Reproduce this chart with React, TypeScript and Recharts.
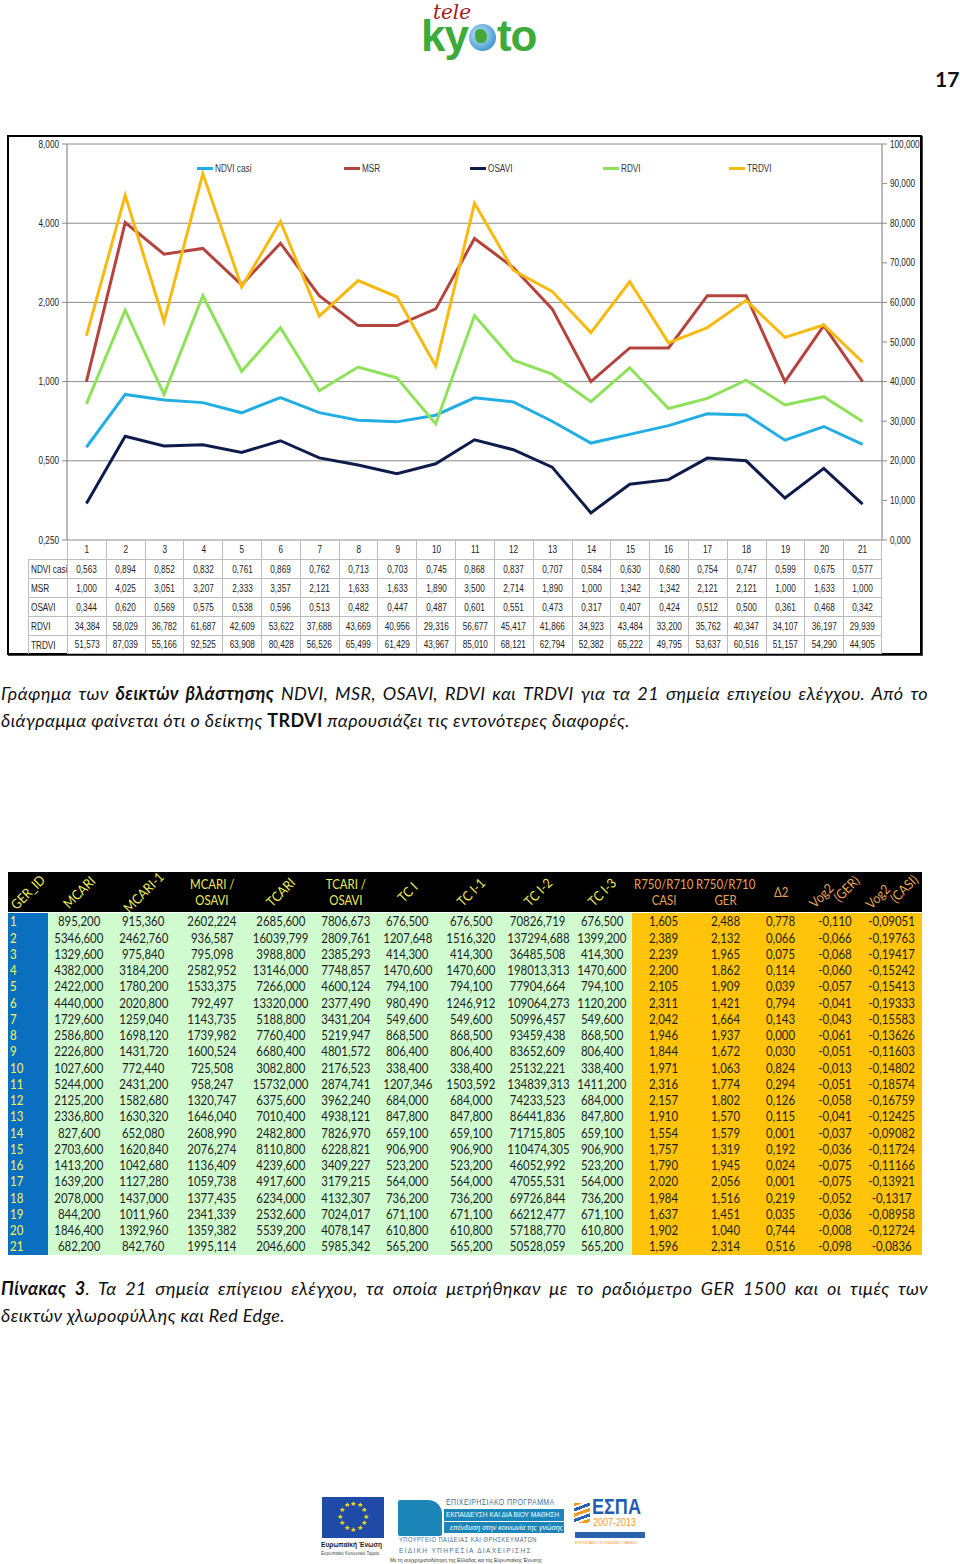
import React from 'react';
import { LineChart, Line, XAxis, YAxis, CartesianGrid, Legend } from 'recharts';

// ---------- Chart data ----------
const categories = [1, 2, 3, 4, 5, 6, 7, 8, 9, 10, 11, 12, 13, 14, 15, 16, 17, 18, 19, 20, 21];
const ndviCasi = [0.563, 0.894, 0.852, 0.832, 0.761, 0.869, 0.762, 0.713, 0.703, 0.745, 0.868, 0.837, 0.707, 0.584, 0.630, 0.680, 0.754, 0.747, 0.599, 0.675, 0.577];
const msr = [1.000, 4.025, 3.051, 3.207, 2.333, 3.357, 2.121, 1.633, 1.633, 1.890, 3.500, 2.714, 1.890, 1.000, 1.342, 1.342, 2.121, 2.121, 1.000, 1.633, 1.000];
const osavi = [0.344, 0.620, 0.569, 0.575, 0.538, 0.596, 0.513, 0.482, 0.447, 0.487, 0.601, 0.551, 0.473, 0.317, 0.407, 0.424, 0.512, 0.500, 0.361, 0.468, 0.342];
const rdvi = [34.384, 58.029, 36.782, 61.687, 42.609, 53.622, 37.688, 43.669, 40.956, 29.316, 56.677, 45.417, 41.866, 34.923, 43.484, 33.200, 35.762, 40.347, 34.107, 36.197, 29.939];
const trdvi = [51.573, 87.039, 55.166, 92.525, 63.908, 80.428, 56.526, 65.499, 61.429, 43.967, 85.010, 68.121, 62.794, 52.382, 65.222, 49.795, 53.637, 60.516, 51.157, 54.290, 44.905];

const leftTicks = [0.25, 0.5, 1, 2, 4, 8];
const rightTicks = [0, 10, 20, 30, 40, 50, 60, 70, 80, 90, 100];
const gridTicks = Array.from({ length: 43 }, (_, i) => 0.5 + i * 0.5);

// ---------- Table 3 data ----------
const mcari = [895.2, 5346.6, 1329.6, 4382.0, 2422.0, 4440.0, 1729.6, 2586.8, 2226.8, 1027.6, 5244.0, 2125.2, 2336.8, 827.6, 2703.6, 1413.2, 1639.2, 2078.0, 844.2, 1846.4, 682.2];
const mcari1 = [915.36, 2462.76, 975.84, 3184.2, 1780.2, 2020.8, 1259.04, 1698.12, 1431.72, 772.44, 2431.2, 1582.68, 1630.32, 652.08, 1620.84, 1042.68, 1127.28, 1437.0, 1011.96, 1392.96, 842.76];
const mcariOsavi = [2602.224, 936.587, 795.098, 2582.952, 1533.375, 792.497, 1143.735, 1739.982, 1600.524, 725.508, 958.247, 1320.747, 1646.040, 2608.990, 2076.274, 1136.409, 1059.738, 1377.435, 2341.339, 1359.382, 1995.114];
const tcari = [2685.6, 16039.799, 3988.8, 13146.0, 7266.0, 13320.0, 5188.8, 7760.4, 6680.4, 3082.8, 15732.0, 6375.6, 7010.4, 2482.8, 8110.8, 4239.6, 4917.6, 6234.0, 2532.6, 5539.2, 2046.6];
const tcariOsavi = [7806.673, 2809.761, 2385.293, 7748.857, 4600.124, 2377.490, 3431.204, 5219.947, 4801.572, 2176.523, 2874.741, 3962.240, 4938.121, 7826.970, 6228.821, 3409.227, 3179.215, 4132.307, 7024.017, 4078.147, 5985.342];
const tcI = [676.5, 1207.648, 414.3, 1470.6, 794.1, 980.49, 549.6, 868.5, 806.4, 338.4, 1207.346, 684.0, 847.8, 659.1, 906.9, 523.2, 564.0, 736.2, 671.1, 610.8, 565.2];
const tcI1 = [676.5, 1516.32, 414.3, 1470.6, 794.1, 1246.912, 549.6, 868.5, 806.4, 338.4, 1503.592, 684.0, 847.8, 659.1, 906.9, 523.2, 564.0, 736.2, 671.1, 610.8, 565.2];
const tcI2 = [70826.719, 137294.688, 36485.508, 198013.313, 77904.664, 109064.273, 50996.457, 93459.438, 83652.609, 25132.221, 134839.313, 74233.523, 86441.836, 71715.805, 110474.305, 46052.992, 47055.531, 69726.844, 66212.477, 57188.770, 50528.059];
const tcI3 = [676.5, 1399.2, 414.3, 1470.6, 794.1, 1120.2, 549.6, 868.5, 806.4, 338.4, 1411.2, 684.0, 847.8, 659.1, 906.9, 523.2, 564.0, 736.2, 671.1, 610.8, 565.2];
const r750Casi = [1.605, 2.389, 2.239, 2.200, 2.105, 2.311, 2.042, 1.946, 1.844, 1.971, 2.316, 2.157, 1.910, 1.554, 1.757, 1.790, 2.020, 1.984, 1.637, 1.902, 1.596];
const r750Ger = [2.488, 2.132, 1.965, 1.862, 1.909, 1.421, 1.664, 1.937, 1.672, 1.063, 1.774, 1.802, 1.570, 1.579, 1.319, 1.945, 2.056, 1.516, 1.451, 1.040, 2.314];
const delta2 = [0.778, 0.066, 0.075, 0.114, 0.039, 0.794, 0.143, 0.000, 0.030, 0.824, 0.294, 0.126, 0.115, 0.001, 0.192, 0.024, 0.001, 0.219, 0.035, 0.744, 0.516];
const vog2Ger = [-0.110, -0.066, -0.068, -0.060, -0.057, -0.041, -0.043, -0.061, -0.051, -0.013, -0.051, -0.058, -0.041, -0.037, -0.036, -0.075, -0.075, -0.052, -0.036, -0.008, -0.098];
const vog2Casi = [-0.09051, -0.19763, -0.19417, -0.15242, -0.15413, -0.19333, -0.15583, -0.13626, -0.11603, -0.14802, -0.18574, -0.16759, -0.12425, -0.09082, -0.11724, -0.11166, -0.13921, -0.1317, -0.08958, -0.12724, -0.0836];

const chartData = categories.map((c, i) => ({
  x: c,
  ndvi: ndviCasi[i],
  msr: msr[i],
  osavi: osavi[i],
  rdvi: rdvi[i],
  trdvi: trdvi[i],
}));

const ARIAL = '"Liberation Sans", Arial, sans-serif';
const BODY = 'Lato, "Open Sans", "Noto Sans", sans-serif';
const NARROW_SCALE = 0.82;

const fmt3 = (v: number) => v.toFixed(3).replace('.', ',');
const fmtRaw = (v: number) => String(v).replace('.', ',');

const COLORS = {
  ndvi: '#23AEE3',
  msr: '#B5443E',
  osavi: '#0E1C4C',
  rdvi: '#8EE25A',
  trdvi: '#F7BA12',
};

const seriesRows = [
  { name: 'NDVI casi', values: ndviCasi },
  { name: 'MSR', values: msr },
  { name: 'OSAVI', values: osavi },
  { name: 'RDVI', values: rdvi },
  { name: 'TRDVI', values: trdvi },
];
const seriesOrder = seriesRows.map((r) => r.name);

const Cond = ({ children, s = NARROW_SCALE, origin = 'center' }: { children: React.ReactNode; s?: number; origin?: string }) => (
  <span style={{ display: 'inline-block', transform: `scaleX(${s})`, transformOrigin: origin, whiteSpace: 'nowrap' }}>{children}</span>
);

const CondTick = (props: any) => {
  const { x, y, payload, textAnchor } = props;
  return (
    <g transform={`translate(${x},${y})`}>
      <text x={0} y={0} dy="0.355em" textAnchor={textAnchor} transform={`scale(${NARROW_SCALE},1)`} fontSize={10} fill="#222" fontFamily={ARIAL}>
        {fmt3(payload.value)}
      </text>
    </g>
  );
};

const renderLegend = (props: any) => {
  const items = [...(props.payload || [])].sort((a: any, b: any) => seriesOrder.indexOf(a.value) - seriesOrder.indexOf(b.value));
  return (
    <div style={{ display: 'flex', alignItems: 'center', gap: 85, fontFamily: ARIAL, fontSize: 10, color: '#333' }}>
      {items.map((p: any) => (
        <div key={p.value} style={{ display: 'flex', alignItems: 'center', whiteSpace: 'nowrap' }}>
          <span style={{ display: 'inline-block', width: 16, height: 3, background: p.color, marginRight: 2 }} />
          <Cond origin="left">{p.value}</Cond>
        </div>
      ))}
    </div>
  );
};

const PLOT_L = 67;
const PLOT_R = 882;
const BAND = (PLOT_R - PLOT_L) / 21;

function ChartTable() {
  const cellBorder = '1px solid #bdbdbd';
  const rowH = 19;
  const base: React.CSSProperties = { position: 'absolute', height: rowH, boxSizing: 'border-box', display: 'flex', alignItems: 'center', fontSize: 10, fontFamily: ARIAL, color: '#222', whiteSpace: 'nowrap' };
  const cells: React.ReactNode[] = [];
  categories.forEach((c, i) => {
    cells.push(
      <div key={'h' + i} style={{ ...base, left: PLOT_L + i * BAND, top: 540, width: BAND, borderLeft: cellBorder, borderRight: i === 20 ? cellBorder : undefined, justifyContent: 'center' }}>
        <Cond>{c}</Cond>
      </div>
    );
  });
  seriesRows.forEach((r, ri) => {
    const top = 540 + rowH * (ri + 1);
    cells.push(
      <div key={'l' + ri} style={{ ...base, left: 28, top, width: PLOT_L - 28, borderLeft: cellBorder, borderTop: cellBorder, paddingLeft: 2 }}>
        <Cond origin="left">{r.name}</Cond>
      </div>
    );
    r.values.forEach((v, i) => {
      cells.push(
        <div key={'c' + ri + '_' + i} style={{ ...base, left: PLOT_L + i * BAND, top, width: BAND, borderLeft: cellBorder, borderTop: cellBorder, borderRight: i === 20 ? cellBorder : undefined, borderBottom: ri === 4 ? cellBorder : undefined, justifyContent: 'center' }}>
          <Cond>{fmt3(v)}</Cond>
        </div>
      );
    });
  });
  return <>{cells}</>;
}

const t3Columns = [
  { head: ['GER_ID'], rot: true, w: 40 },
  { head: ['MCARI'], rot: true, w: 62, data: mcari, f: fmt3 },
  { head: ['MCARI-1'], rot: true, w: 67, data: mcari1, f: fmt3 },
  { head: ['MCARI /', 'OSAVI'], rot: false, w: 70, data: mcariOsavi, f: fmt3 },
  { head: ['TCARI'], rot: true, w: 68, data: tcari, f: fmt3 },
  { head: ['TCARI /', 'OSAVI'], rot: false, w: 62, data: tcariOsavi, f: fmt3 },
  { head: ['TC I'], rot: true, w: 61, data: tcI, f: fmt3 },
  { head: ['TC I-1'], rot: true, w: 66, data: tcI1, f: fmt3 },
  { head: ['TC I-2'], rot: true, w: 68, data: tcI2, f: fmt3 },
  { head: ['TC I-3'], rot: true, w: 60, data: tcI3, f: fmt3 },
  { head: ['R750/R710', 'CASI'], rot: false, w: 64, data: r750Casi, f: fmt3 },
  { head: ['R750/R710', 'GER'], rot: false, w: 59, data: r750Ger, f: fmt3 },
  { head: ['Δ2'], rot: false, w: 52, data: delta2, f: fmt3 },
  { head: ['Vog2', '(GER)'], rot: true, w: 55, data: vog2Ger, f: fmt3 },
  { head: ['Vog2', '(CASI)'], rot: true, w: 60, data: vog2Casi, f: fmtRaw },
];

function Table3() {
  const left0 = 8;
  const headTop = 872;
  const headH = 40;
  const rowH = 16.25;
  const els: React.ReactNode[] = [];
  const totalW = t3Columns.reduce((s, c) => s + c.w, 0);
  const T_SCALE = 0.88;
  els.push(<div key="hb" style={{ position: 'absolute', left: left0, top: headTop, width: totalW, height: headH, background: '#000' }} />);
  let x = left0;
  t3Columns.forEach((col, ci) => {
    const gold = ci >= 10;
    const headColor = gold ? '#E7A25A' : '#EDED5C';
    const cx = x;
    if (col.rot) {
      els.push(
        <div key={'h' + ci} style={{ position: 'absolute', left: cx, top: headTop, width: col.w, height: headH, display: 'flex', alignItems: 'center', justifyContent: 'center' }}>
          <div style={{ transform: `rotate(-45deg) scaleX(0.9)`, color: headColor, fontFamily: BODY, fontSize: 13.5, lineHeight: '13px', whiteSpace: 'nowrap', textAlign: 'left' }}>
            {col.head.map((h, hi) => (
              <div key={hi} style={{ paddingLeft: hi * 24 }}>{h}</div>
            ))}
          </div>
        </div>
      );
    } else {
      els.push(
        <div key={'h' + ci} style={{ position: 'absolute', left: cx, top: headTop, width: col.w, height: headH, display: 'flex', flexDirection: 'column', alignItems: 'center', justifyContent: 'center', color: headColor, fontFamily: BODY, fontSize: 13, lineHeight: '16px', whiteSpace: 'nowrap' }}>
          {col.head.map((h, hi) => (
            <div key={hi}><Cond s={T_SCALE}>{h}</Cond></div>
          ))}
        </div>
      );
    }
    for (let r = 0; r < 21; r++) {
      const top = headTop + headH + 1 + r * rowH;
      const bg = ci === 0 ? '#0B6FBF' : gold ? '#FFC40A' : '#CFFBCF';
      const content = ci === 0 ? String(categories[r]) : col.f!(col.data![r]);
      els.push(
        <div key={'c' + ci + '_' + r} style={{ position: 'absolute', left: cx, top, width: col.w, height: rowH + 0.5, background: bg, display: 'flex', alignItems: 'center', justifyContent: ci === 0 ? 'flex-start' : 'center', paddingLeft: ci === 0 ? 2 : 0, boxSizing: 'border-box', color: ci === 0 ? '#F4F85A' : '#1d1d1d', fontFamily: BODY, fontSize: 13, whiteSpace: 'nowrap' }}>
          <Cond s={T_SCALE} origin={ci === 0 ? 'left' : 'center'}>{content}</Cond>
        </div>
      );
    }
    x += col.w;
  });
  return <>{els}</>;
}

function EUFlag() {
  const stars = Array.from({ length: 12 }, (_, i) => i);
  return (
    <div style={{ position: 'absolute', left: 322, top: 1497, width: 62, height: 41, background: '#1F4AA8' }}>
      {stars.map((i) => {
        const a = (i / 12) * Math.PI * 2;
        return (
          <span key={i} style={{ position: 'absolute', left: 31 + Math.cos(a) * 13 - 3, top: 20.5 + Math.sin(a) * 13 - 5, fontSize: 7, color: '#FFE200', lineHeight: '8px' }}>★</span>
        );
      })}
    </div>
  );
}

const captionStyle: React.CSSProperties = { position: 'absolute', left: 1, fontFamily: BODY, fontStyle: 'italic', fontSize: 18, letterSpacing: 0.4, lineHeight: '27px', color: '#111', whiteSpace: 'nowrap' };

export default function App() {
  return (
    <div style={{ position: 'absolute', left: 0, top: 0, width: 960, height: 1564, background: '#fff', overflow: 'hidden' }}>
      {/* Logo */}
      <div style={{ position: 'absolute', left: 433, top: 6, fontFamily: '"DejaVu Serif", "Liberation Serif", serif', fontStyle: 'italic', color: '#A8161E', fontSize: 20, lineHeight: '12px' }}>tele</div>
      <div style={{ position: 'absolute', left: 421, top: 22, fontFamily: ARIAL, fontWeight: 700, fontSize: 44, lineHeight: '28px', color: '#3DAA3A', letterSpacing: -1, display: 'flex', alignItems: 'flex-end' }}>
        <span>ky</span>
        <span style={{ display: 'inline-block', width: 27, height: 27, borderRadius: '50%', background: 'radial-gradient(circle at 40% 40%, #CDE9F8, #5AA7DA 60%, #2E6FB0)', position: 'relative', marginBottom: -1, marginLeft: 1, marginRight: 1 }}>
          <span style={{ position: 'absolute', left: 6, top: 5, width: 12, height: 14, borderRadius: '40% 60% 50% 50%', background: '#45A838' }} />
        </span>
        <span>to</span>
      </div>
      <div style={{ position: 'absolute', left: 935, top: 66, fontFamily: BODY, fontWeight: 700, fontSize: 21, color: '#111' }}>17</div>

      {/* Chart frame */}
      <div style={{ position: 'absolute', left: 7, top: 135, width: 915, height: 520, border: '2.5px solid #000', boxSizing: 'border-box', boxShadow: '1px 1px 0 #444' }} />

      <div style={{ position: 'absolute', left: 0, top: 136 }}>
        <LineChart width={960} height={420} data={chartData} margin={{ top: 8, right: 0, bottom: 16, left: 0 }}>
          <CartesianGrid yAxisId="left" horizontal={false} vertical stroke="#d3d3d3" />
          <CartesianGrid yAxisId="left" horizontal vertical={false} stroke="#8a8a8a" />
          <XAxis type="number" dataKey="x" domain={[0.5, 21.5]} ticks={gridTicks} tick={false} tickLine={false} axisLine={false} height={0} allowDataOverflow />
          <YAxis
            yAxisId="left"
            scale="log"
            domain={[0.25, 8]}
            ticks={leftTicks}
            interval={0}
            allowDataOverflow
            width={PLOT_L}
            tickSize={5}
            tickMargin={3}
            axisLine={{ stroke: '#8a8a8a' }}
            tickLine={{ stroke: '#8a8a8a' }}
            tick={<CondTick />}
          />
          <YAxis
            yAxisId="right"
            orientation="right"
            domain={[0, 100]}
            ticks={rightTicks}
            interval={0}
            width={960 - PLOT_R}
            tickSize={5}
            tickMargin={3}
            axisLine={{ stroke: '#8a8a8a' }}
            tickLine={{ stroke: '#8a8a8a' }}
            tick={<CondTick />}
          />
          <Legend verticalAlign="middle" align="center" layout="horizontal" wrapperStyle={{ top: 27, left: 197, width: 700 }} content={renderLegend} />
          <Line yAxisId="left" type="linear" dataKey="ndvi" name="NDVI casi" stroke={COLORS.ndvi} strokeWidth={3} dot={false} isAnimationActive={false} />
          <Line yAxisId="left" type="linear" dataKey="msr" name="MSR" stroke={COLORS.msr} strokeWidth={3} dot={false} isAnimationActive={false} />
          <Line yAxisId="left" type="linear" dataKey="osavi" name="OSAVI" stroke={COLORS.osavi} strokeWidth={3} dot={false} isAnimationActive={false} />
          <Line yAxisId="right" type="linear" dataKey="rdvi" name="RDVI" stroke={COLORS.rdvi} strokeWidth={3} dot={false} isAnimationActive={false} />
          <Line yAxisId="right" type="linear" dataKey="trdvi" name="TRDVI" stroke={COLORS.trdvi} strokeWidth={3} dot={false} isAnimationActive={false} />
        </LineChart>
      </div>
      <ChartTable />

      {/* Caption 1 */}
      <div style={{ ...captionStyle, top: 680, width: 927, textAlign: 'justify', textAlignLast: 'justify' }}>
        Γράφημα των <b>δεικτών βλάστησης</b> NDVI, MSR, OSAVI, RDVI και TRDVI για τα 21 σημεία επιγείου ελέγχου. Από το
      </div>
      <div style={{ ...captionStyle, top: 707 }}>
        διάγραμμα φαίνεται ότι ο δείκτης <b style={{ fontStyle: 'normal' }}>TRDVI</b> παρουσιάζει τις εντονότερες διαφορές.
      </div>

      <Table3 />

      {/* Caption 2 */}
      <div style={{ ...captionStyle, top: 1275, width: 927, textAlign: 'justify', textAlignLast: 'justify' }}>
        <b>Πίνακας 3</b>. Τα 21 σημεία επίγειου ελέγχου, τα οποία μετρήθηκαν με το ραδιόμετρο GER 1500 και οι τιμές των
      </div>
      <div style={{ ...captionStyle, top: 1302 }}>
        δεικτών χλωροφύλλης και Red Edge.
      </div>

      {/* Footer logos */}
      <EUFlag />
      <div style={{ position: 'absolute', left: 321, top: 1540, fontFamily: ARIAL, fontWeight: 700, fontSize: 8, color: '#222', whiteSpace: 'nowrap' }}><Cond origin="left">Ευρωπαϊκή Ένωση</Cond></div>
      <div style={{ position: 'absolute', left: 321, top: 1551, fontFamily: ARIAL, fontSize: 4.5, color: '#444', whiteSpace: 'nowrap' }}>Ευρωπαϊκό Κοινωνικό Ταμείο</div>
      <div style={{ position: 'absolute', left: 398, top: 1500, width: 44, height: 36, background: '#1C86B8', borderRadius: '2px 14px 2px 2px' }} />
      <div style={{ position: 'absolute', left: 446, top: 1497, fontFamily: ARIAL, fontSize: 8.5, color: '#4B6E8A', whiteSpace: 'nowrap', letterSpacing: 0.5 }}><Cond origin="left">ΕΠΙΧΕΙΡΗΣΙΑΚΟ ΠΡΟΓΡΑΜΜΑ</Cond></div>
      <div style={{ position: 'absolute', left: 444, top: 1509, width: 120, height: 12, background: '#1C86B8', fontFamily: ARIAL, fontSize: 8, color: '#fff', whiteSpace: 'nowrap', lineHeight: '12px', paddingLeft: 2, boxSizing: 'border-box', overflow: 'hidden' }}><Cond origin="left">ΕΚΠΑΙΔΕΥΣΗ ΚΑΙ ΔΙΑ ΒΙΟΥ ΜΑΘΗΣΗ</Cond></div>
      <div style={{ position: 'absolute', left: 444, top: 1522, width: 120, height: 11, background: '#1C86B8', fontFamily: ARIAL, fontStyle: 'italic', fontSize: 7, color: '#fff', whiteSpace: 'nowrap', lineHeight: '11px', paddingLeft: 6, boxSizing: 'border-box', overflow: 'hidden' }}>επένδυση στην κοινωνία της γνώσης</div>
      <div style={{ position: 'absolute', left: 399, top: 1536, fontFamily: ARIAL, fontSize: 7, color: '#4B6E8A', whiteSpace: 'nowrap', letterSpacing: 0.6 }}><Cond origin="left">ΥΠΟΥΡΓΕΙΟ ΠΑΙΔΕΙΑΣ ΚΑΙ ΘΡΗΣΚΕΥΜΑΤΩΝ</Cond></div>
      <div style={{ position: 'absolute', left: 399, top: 1546, fontFamily: ARIAL, fontSize: 8, color: '#4B6E8A', whiteSpace: 'nowrap', letterSpacing: 1.6 }}><Cond origin="left">ΕΙΔΙΚΗ ΥΠΗΡΕΣΙΑ ΔΙΑΧΕΙΡΙΣΗΣ</Cond></div>
      <div style={{ position: 'absolute', left: 390, top: 1557, fontFamily: ARIAL, fontSize: 5, color: '#333', whiteSpace: 'nowrap' }}>Με τη συγχρηματοδότηση της Ελλάδας και της Ευρωπαϊκής Ένωσης</div>
      <div style={{ position: 'absolute', left: 574, top: 1503, width: 16, height: 20, background: 'repeating-linear-gradient(160deg, #F39A1E 0 3px, #fff 3px 5px, #2B63B0 5px 8px, #fff 8px 10px)' }} />
      <div style={{ position: 'absolute', left: 592, top: 1494, fontFamily: ARIAL, fontWeight: 700, fontSize: 22, color: '#1F5FAE', whiteSpace: 'nowrap' }}><Cond origin="left">ΕΣΠΑ</Cond></div>
      <div style={{ position: 'absolute', left: 593, top: 1516, fontFamily: ARIAL, fontSize: 11, color: '#F39A1E', whiteSpace: 'nowrap' }}><Cond origin="left">2007-2013</Cond></div>
      <div style={{ position: 'absolute', left: 575, top: 1532, width: 70, height: 6, background: '#2B63B0' }} />
      <div style={{ position: 'absolute', left: 575, top: 1540, fontFamily: ARIAL, fontSize: 4, color: '#F39A1E', whiteSpace: 'nowrap' }}>ΕΥΡΩΠΑΪΚΟ ΚΟΙΝΩΝΙΚΟ ΤΑΜΕΙΟ</div>
    </div>
  );
}
